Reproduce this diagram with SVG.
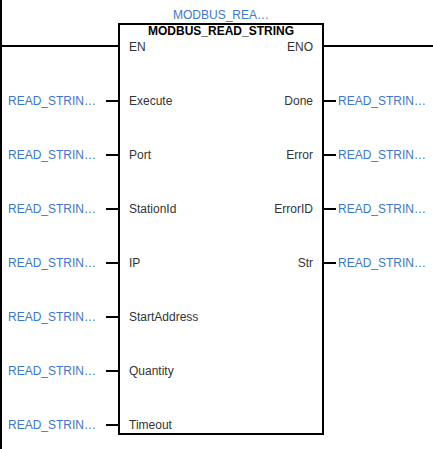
<svg xmlns="http://www.w3.org/2000/svg" width="433" height="449" viewBox="0 0 433 449">
<style>
.w{stroke:#000;stroke-width:2;fill:none}
.v{font-family:"Liberation Sans",Arial,sans-serif;font-size:12px;fill:#3b78c8}
.p{font-family:"Liberation Sans",Arial,sans-serif;font-size:12px;fill:#333}
.t{font-family:"Liberation Sans",Arial,sans-serif;font-size:12px;font-weight:bold;fill:#000}
</style>
<rect width="433" height="449" fill="#fff"/>
<g id="connectors">
<line class="w" x1="1" y1="0" x2="1" y2="449"/>
<line class="w" x1="0" y1="46" x2="119" y2="46"/>
<line class="w" x1="323" y1="46" x2="433" y2="46"/>
<line class="w" x1="106" y1="101" x2="119" y2="101"/>
<line class="w" x1="106" y1="155" x2="119" y2="155"/>
<line class="w" x1="106" y1="209" x2="119" y2="209"/>
<line class="w" x1="106" y1="263" x2="119" y2="263"/>
<line class="w" x1="106" y1="317" x2="119" y2="317"/>
<line class="w" x1="106" y1="371" x2="119" y2="371"/>
<line class="w" x1="106" y1="425" x2="119" y2="425"/>
<line class="w" x1="323" y1="101" x2="336" y2="101"/>
<line class="w" x1="323" y1="155" x2="336" y2="155"/>
<line class="w" x1="323" y1="209" x2="336" y2="209"/>
<line class="w" x1="323" y1="263" x2="336" y2="263"/>
</g>
<g id="block">
<rect class="w" x="119" y="24" width="204" height="410"/>
<text class="v" x="221" y="19" text-anchor="middle">MODBUS_REA…</text>
<text class="t" x="221" y="35" text-anchor="middle">MODBUS_READ_STRING</text>
<text class="p" x="129" y="51">EN</text>
<text class="p" x="313" y="51" text-anchor="end">ENO</text>
<text class="p" x="129" y="105">Execute</text>
<text class="p" x="129" y="159">Port</text>
<text class="p" x="129" y="213">StationId</text>
<text class="p" x="129" y="267">IP</text>
<text class="p" x="129" y="321">StartAddress</text>
<text class="p" x="129" y="375">Quantity</text>
<text class="p" x="129" y="429">Timeout</text>
<text class="p" x="313" y="105" text-anchor="end">Done</text>
<text class="p" x="313" y="159" text-anchor="end">Error</text>
<text class="p" x="313" y="213" text-anchor="end">ErrorID</text>
<text class="p" x="313" y="267" text-anchor="end">Str</text>
</g>
<g id="inputs">
<text class="v" x="8" y="105">READ_STRIN…</text>
<text class="v" x="8" y="159">READ_STRIN…</text>
<text class="v" x="8" y="213">READ_STRIN…</text>
<text class="v" x="8" y="267">READ_STRIN…</text>
<text class="v" x="8" y="321">READ_STRIN…</text>
<text class="v" x="8" y="375">READ_STRIN…</text>
<text class="v" x="8" y="429">READ_STRIN…</text>
</g>
<g id="outputs">
<text class="v" x="338" y="105">READ_STRIN…</text>
<text class="v" x="338" y="159">READ_STRIN…</text>
<text class="v" x="338" y="213">READ_STRIN…</text>
<text class="v" x="338" y="267">READ_STRIN…</text>
</g>
</svg>
